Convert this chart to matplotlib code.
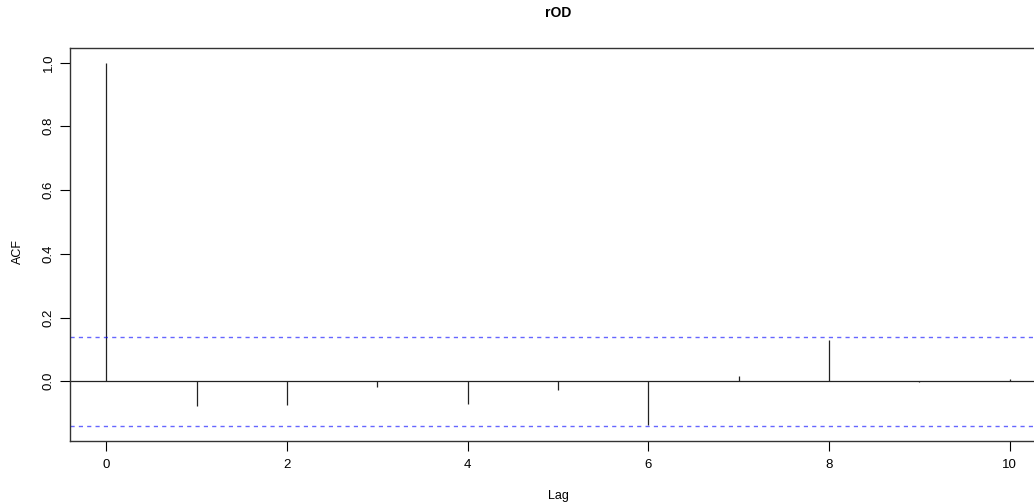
import numpy as np
import matplotlib
matplotlib.use('Agg')
from matplotlib import pyplot as plt

plt.rcParams['font.family'] = ['Liberation Sans', 'DejaVu Sans']

# ACF values
lags = [0, 1, 2, 3, 4, 5, 6, 7, 8, 9, 10]
acf = [1.0, -0.078, -0.075, -0.019, -0.072, -0.027, -0.138, 0.017, 0.129, -0.002, 0.006]
conf = 0.139

fig = plt.figure(figsize=(10.34, 5.03), dpi=100)
ax = fig.add_axes([70/1034, 62/503, 976/1034, 393/503])

ax.vlines(lags, 0, acf, color='#222222', lw=0.9)
ax.axhline(0, color='#222222', lw=0.9)
ax.axhline(conf, color='blue', lw=1.0, ls=(0, (3, 3)), alpha=0.6)
ax.axhline(-conf, color='blue', lw=1.0, ls=(0, (3, 3)), alpha=0.6)

ax.set_xlim(-0.4, 10.4)
ax.set_ylim(-0.1873, 1.0456)
ax.set_xticks([0, 2, 4, 6, 8, 10])
ax.set_yticks([0.0, 0.2, 0.4, 0.6, 0.8, 1.0])
ax.set_yticklabels(['0.0', '0.2', '0.4', '0.6', '0.8', '1.0'], rotation=90, va='center')
ax.tick_params(length=7, width=0.8, labelsize=9.5)
ax.tick_params(axis='x', pad=6)
ax.tick_params(axis='y', pad=4)

for s in ax.spines.values():
    s.set_linewidth(1.0)
    s.set_color('#333333')

fig.text(18/1034, 1 - 252/503, 'ACF', rotation=90, ha='center', va='center', fontsize=9)
fig.text(558/1034, 1 - 496/503, 'Lag', ha='center', va='center', fontsize=9)
fig.text((70 + 1046) / 2 / 1034, 1 - 13/503, 'rOD', ha='center', va='center',
         fontsize=10, fontweight='bold')

plt.savefig('out.png', dpi=100)
